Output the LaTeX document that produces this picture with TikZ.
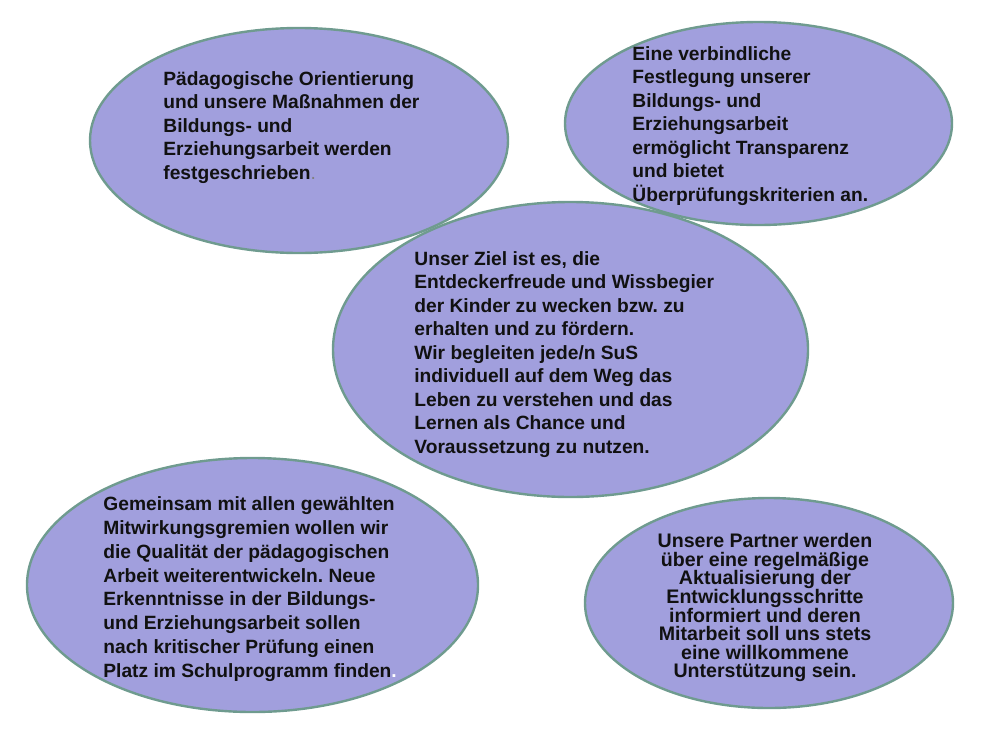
\documentclass[tikz,border=0pt]{standalone}
\usepackage{fontspec}
\setmainfont{Liberation Sans}
\usepackage{tikz}
\usetikzlibrary{shapes.geometric}
\usetikzlibrary{calc}
\definecolor{bubblefill}{HTML}{A19FDD}
\definecolor{bubbleline}{HTML}{6F9B8F}
\definecolor{inktext}{HTML}{111111}
\frenchspacing

\begin{document}
\begin{tikzpicture}[x=0.5pt, y=-0.5pt,
  bubble/.style={ellipse, fill=bubblefill, draw=bubbleline, line width=1.2pt, inner sep=0pt},
  txt/.style={inner sep=0pt, align=left, font=\fontsize{9.6}{11.75}\selectfont\bfseries, text=inktext}]
\useasboundingbox (0,0) rectangle (1000,750);
\node (e1) at (299,140.5) [bubble, minimum width=209pt, minimum height=112.5pt] {};
\node (e4) at (252.5,585) [bubble, minimum width=225.5pt, minimum height=127pt] {};
\node (e5) at (769,603) [bubble, minimum width=184pt, minimum height=105pt] {};
\node (e3) at (570.5,349.5) [bubble, minimum width=237.5pt, minimum height=147.5pt] {};
\node (e2) at (758.5,123.5) [bubble, minimum width=193.5pt, minimum height=101.5pt] {};
% texts
\node (t1) at (163,71) [txt, anchor=north west] {P\"adagogische Orientierung\\und unsere Ma\ss nahmen der\\Bildungs- und\\Erziehungsarbeit werden\\festgeschrieben{\color{gray}\mdseries.}};
\node (t2) at (632,46) [txt, anchor=north west] {Eine verbindliche\\Festlegung unserer\\Bildungs- und\\Erziehungsarbeit\\erm\"oglicht Transparenz\\und bietet\\\"Uberpr\"ufungskriterien an.};
\node (t3) at (414,251) [txt, anchor=north west] {Unser Ziel ist es, die\\Entdeckerfreude und Wissbegier\\der Kinder zu wecken bzw. zu\\erhalten und zu f\"ordern.\\Wir begleiten jede/n SuS\\individuell auf dem Weg das\\Leben zu verstehen und das\\Lernen als Chance und\\Voraussetzung zu nutzen.};
\node (t4) at (103,496) [txt, anchor=north west, font=\fontsize{9.6}{11.95}\selectfont\bfseries] {Gemeinsam mit allen gew\"ahlten\\Mitwirkungsgremien wollen wir\\die Qualit\"at der p\"adagogischen\\Arbeit weiterentwickeln. Neue\\Erkenntnisse in der Bildungs-\\und Erziehungsarbeit sollen\\nach kritischer Pr\"ufung einen\\Platz im Schulprogramm finden{\color{white}.}};
\node (t5) at (765,533) [txt, anchor=north, align=center, font=\fontsize{9.8}{9.3}\selectfont\bfseries] {Unsere Partner werden\\\"uber eine regelm\"a\ss ige\\Aktualisierung der\\Entwicklungsschritte\\informiert und deren\\Mitarbeit soll uns stets\\eine willkommene\\Unterst\"utzung sein.};
\end{tikzpicture}
\end{document}
